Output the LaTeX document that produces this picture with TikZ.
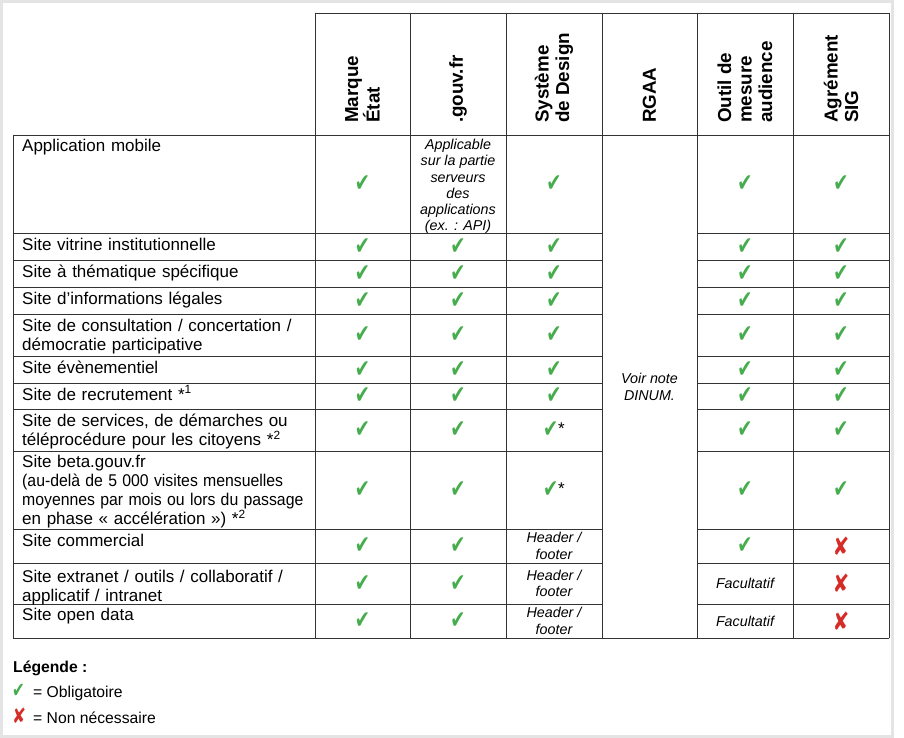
\documentclass[tikz,border=0pt]{standalone}
\usepackage{fontspec}
\usepackage{graphicx}
\setmainfont{Liberation Sans}
\newfontfamily\symfont{DejaVu Sans}
\usetikzlibrary{positioning}
\definecolor{okgreen}{RGB}{70,172,78}
\definecolor{nored}{RGB}{214,44,40}
\definecolor{framegray}{RGB}{228,228,228}
\newcommand{\yes}{{\symfont\color{okgreen}\scalebox{0.72}[1]{✔}}}
\newcommand{\nope}{{\symfont\color{nored}\scalebox{0.8}[1]{✘}}}
\newcommand{\squeeze}[1]{\scalebox{0.93}[1]{#1}}

\begin{document}
\begin{tikzpicture}[x=1pt, y=-1pt,
  rule/.style={black!80, line width=0.9pt, line cap=rect},
  head/.style={rotate=90, anchor=west, align=left, inner sep=0pt, font=\bfseries\fontsize{18.8}{20.5}\selectfont},
  rowlabel/.style={anchor=base west, text width=320pt, align=left, inner sep=0pt, font=\fontsize{17}{19.3}\selectfont},
  tick/.style={inner sep=0pt, font=\fontsize{25}{25}\selectfont},
  note/.style={align=center, inner sep=0pt, font=\itshape\fontsize{14.3}{16.3}\selectfont},
  legend/.style={anchor=base west, inner sep=0pt, font=\fontsize{15.7}{18}\selectfont}]

\useasboundingbox (0,0) rectangle (904,738);
\draw[framegray, line width=3pt] (1.5,1.5) rectangle (892.5,736.5);

% grid of the table
\draw[rule] (315,13) -- (889,13);
\draw[rule] (13,135) -- (889,135);
\draw[rule] (13,638) -- (889,638);
\draw[rule] (13,135) -- (13,638);
\foreach \x in {315,410,506,602,697,793,889}
  \draw[rule] (\x,13) -- (\x,638);
\foreach \y in {233,260,287,314,356,383,409,451,529,563,604} {
  \draw[rule] (13,\y) -- (602,\y);
  \draw[rule] (697,\y) -- (889,\y);
}

% column heads
\node[head] (marque) at (362.5,123) {Marque\\État};
\node[head] (gouv) at (458,123) {.gouv.fr};
\node[head] (design) at (554,123) {Système\\de Design};
\node[head] (rgaa) at (649.5,123) {RGAA};
\node[head] (outil) at (745,123) {Outil de\\mesure\\audience};
\node[head] (sig) at (841,123) {Agrément\\SIG};

% row labels
\node[rowlabel] (app) at (22,152) {Application mobile};
\node[rowlabel] (vitrine) at (22,250) {Site vitrine institutionnelle};
\node[rowlabel] (thema) at (22,277) {Site à thématique spécifique};
\node[rowlabel] (legal) at (22,304) {Site d’informations légales};
\node[rowlabel] (consult) at (22,331) {Site de consultation / concertation /\\démocratie participative};
\node[rowlabel] (event) at (22,373) {Site évènementiel};
\node[rowlabel] (recrut) at (22,400) {Site de recrutement *\textsuperscript{1}};
\node[rowlabel] (services) at (22,426) {Site de services, de démarches ou\\téléprocédure pour les citoyens *\textsuperscript{2}};
\node[rowlabel] (beta) at (22,467) {Site beta.gouv.fr\\\squeeze{(au-delà de 5~000 visites mensuelles}\\\squeeze{moyennes par mois ou lors du passage}\\en phase « accélération ») *\textsuperscript{2}};
\node[rowlabel] (commercial) at (22,546) {Site commercial};
\node[rowlabel] (extranet) at (22,582) {Site extranet / outils / collaboratif /\\applicatif / intranet};
\node[rowlabel] (opendata) at (22,620) {Site open data};

% Marque Etat
\foreach \y [count=\i] in {184,246.5,273.5,300.5,335,369.5,396,430,490,546,583.5,621}
  \node[tick] (marque-\i) at (362.5,\y) {\yes};

% .gouv.fr
\node[note] (gouv-1) at (458,186.5) {Applicable\\sur la partie\\serveurs\\des\\applications\\(ex. : API)};
\foreach \y [count=\i from 2] in {246.5,273.5,300.5,335,369.5,396,430,490,546,583.5,621}
  \node[tick] (gouv-\i) at (458,\y) {\yes};

% Systeme de Design
\foreach \y [count=\i] in {184,246.5,273.5,300.5,335,369.5,396}
  \node[tick] (design-\i) at (554,\y) {\yes};
\node[tick] (design-8) at (554,430) {\yes\fontsize{17}{17}\selectfont\raisebox{3pt}{*}};
\node[tick] (design-9) at (554,490) {\yes\fontsize{17}{17}\selectfont\raisebox{3pt}{*}};
\foreach \y [count=\i from 10] in {546,583.5,621}
  \node[note] (design-\i) at (554,\y) {Header /\\footer};

% RGAA
\node[note, font=\itshape\fontsize{14.3}{16.8}\selectfont] (dinum) at (649.5,387) {Voir note\\DINUM.};

% Outil de mesure audience
\foreach \y [count=\i] in {184,246.5,273.5,300.5,335,369.5,396,430,490,546}
  \node[tick] (outil-\i) at (745,\y) {\yes};
\node[note] (outil-11) at (745,583.5) {Facultatif};
\node[note] (outil-12) at (745,621) {Facultatif};

% Agrement SIG
\foreach \y [count=\i] in {184,246.5,273.5,300.5,335,369.5,396,430,490}
  \node[tick] (sig-\i) at (841,\y) {\yes};
\foreach \y [count=\i from 10] in {546,583.5,621}
  \node[tick] (sig-\i) at (841,\y) {\nope};

% legend
\node[legend, font=\bfseries\fontsize{15.7}{18}\selectfont] (legende) at (13,672) {Légende :};
\node[tick, anchor=base west, font=\fontsize{21}{21}\selectfont] (leg-yes) at (12,697) {\yes};
\node[legend] (leg-yes-txt) at (33,697) {= Obligatoire};
\node[tick, anchor=base west, font=\fontsize{21}{21}\selectfont] (leg-no) at (12,723) {\nope};
\node[legend] (leg-no-txt) at (33,723) {= Non nécessaire};
\end{tikzpicture}
\end{document}
